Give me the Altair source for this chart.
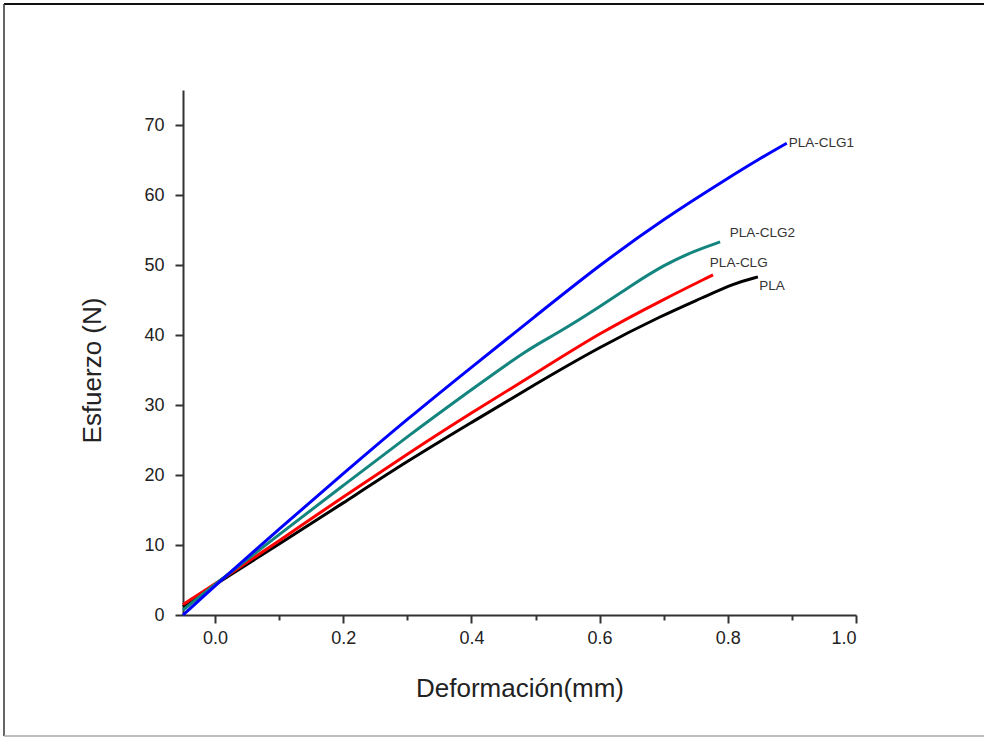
import altair as alt
import pandas as pd

# Series data (Deformación mm, Esfuerzo N)
pla_x = [-0.05, 0.0, 0.1, 0.2, 0.3, 0.4, 0.5, 0.6, 0.7, 0.76, 0.81, 0.847]
pla_y = [1.2, 4.4, 10.1, 16.0, 22.0, 27.5, 33.0, 38.3, 42.9, 45.3, 47.4, 48.3]

clg_x = [-0.05, 0.0, 0.1, 0.2, 0.3, 0.4, 0.5, 0.6, 0.7, 0.777]
clg_y = [1.5, 4.4, 10.6, 16.9, 23.0, 28.9, 34.5, 40.3, 45.1, 48.6]

clg2_x = [-0.05, 0.0, 0.1, 0.2, 0.3, 0.4, 0.49, 0.53, 0.6, 0.65, 0.7, 0.75, 0.788]
clg2_y = [0.7, 4.4, 11.5, 18.5, 25.5, 32.2, 38.1, 40.0, 44.0, 47.1, 50.0, 52.1, 53.3]

clg1_x = [-0.05, 0.0, 0.1, 0.2, 0.3, 0.4, 0.5, 0.6, 0.7, 0.8, 0.85, 0.892]
clg1_y = [0.0, 4.2, 12.3, 20.2, 28.0, 35.4, 42.7, 50.0, 56.6, 62.4, 65.2, 67.4]

series_names = ["PLA", "PLA-CLG", "PLA-CLG2", "PLA-CLG1"]
series_colors = ["#000000", "#ff0000", "#13857e", "#0000ff"]

label_names = ["PLA-CLG1", "PLA-CLG2", "PLA-CLG", "PLA"]
label_x = [0.895, 0.803, 0.772, 0.849]
label_y = [67.4, 54.6, 50.3, 47.0]

x_ticks = [round(i * 0.1, 1) for i in range(0, 11)]
y_ticks = list(range(0, 80, 5))

rows = []
for name, xs, ys in [("PLA", pla_x, pla_y), ("PLA-CLG", clg_x, clg_y),
                     ("PLA-CLG2", clg2_x, clg2_y), ("PLA-CLG1", clg1_x, clg1_y)]:
    for i, (a, b) in enumerate(zip(xs, ys)):
        rows.append({"serie": name, "x": a, "y": b, "i": i})
df = pd.DataFrame(rows)
labels_df = pd.DataFrame({"name": label_names, "x": label_x, "y": label_y})

FONT = "Liberation Sans"

x_scale = alt.Scale(domain=[-0.05, 1.0], nice=False, zero=False)
y_scale = alt.Scale(domain=[0, 75], nice=False, zero=False)

x_axis = alt.Axis(
    values=x_ticks, format=".1f",
    labelExpr="round(datum.value*10) % 2 === 0 ? datum.label : ''",
    tickSize={"condition": {"test": "round(datum.value*10) % 2 === 0", "value": 8}, "value": 5},
    tickWidth=2, tickColor="#333333", domainColor="#333333", domainWidth=2,
    labelFont=FONT, labelFontSize=18, labelColor="#222222", labelPadding=6,
    title="Deformación(mm)", titleFont=FONT, titleFontSize=26, titleFontWeight="normal",
    titleColor="#222222", titlePadding=28, grid=False,
)
y_axis = alt.Axis(
    values=y_ticks,
    labelExpr="datum.value % 10 === 0 ? datum.label : ''",
    tickSize={"condition": {"test": "datum.value % 10 === 0", "value": 8}, "value": 5},
    tickWidth=2, tickColor="#333333", domainColor="#333333", domainWidth=2,
    labelFont=FONT, labelFontSize=18, labelColor="#222222", labelPadding=11,
    title="Esfuerzo (N)", titleFont=FONT, titleFontSize=26, titleFontWeight="normal",
    titleColor="#222222", titleX=-91, titleY=280, titleBaseline="middle", grid=False,
)

lines = alt.Chart(df).mark_line(strokeWidth=3, interpolate="basis").encode(
    x=alt.X("x:Q", scale=x_scale, axis=x_axis),
    y=alt.Y("y:Q", scale=y_scale, axis=y_axis),
    color=alt.Color("serie:N", scale=alt.Scale(domain=series_names, range=series_colors), legend=None),
    order="i:Q",
)

texts = alt.Chart(labels_df).mark_text(
    align="left", baseline="middle", fontSize=13.5, font=FONT, color="#333333"
).encode(x=alt.X("x:Q", scale=x_scale), y=alt.Y("y:Q", scale=y_scale), text="name:N")

# page frame lines (decoration)
frame_top = alt.Chart(pd.DataFrame({"a": [0]})).mark_rule(color="#111111", strokeWidth=2).encode(
    x=alt.value(-179), x2=alt.value(801), y=alt.value(-86))
frame_left = alt.Chart(pd.DataFrame({"a": [0]})).mark_rule(color="#333333", strokeWidth=1.5).encode(
    x=alt.value(-179), y=alt.value(-86), y2=alt.value(646))
frame_bottom = alt.Chart(pd.DataFrame({"a": [0]})).mark_rule(color="#aaaaaa", strokeWidth=1.5).encode(
    x=alt.value(-179), x2=alt.value(801), y=alt.value(646))

chart = alt.layer(frame_top, frame_left, frame_bottom, lines, texts).properties(
    width=673, height=525,
    padding={"left": 183, "top": 90, "right": 128, "bottom": 123},
    autosize=alt.AutoSizeParams(type="none"),
).configure(background="white").configure_view(strokeWidth=0, stroke="transparent")

chart.save("out.html", embed_options={"renderer": "svg", "actions": False})
